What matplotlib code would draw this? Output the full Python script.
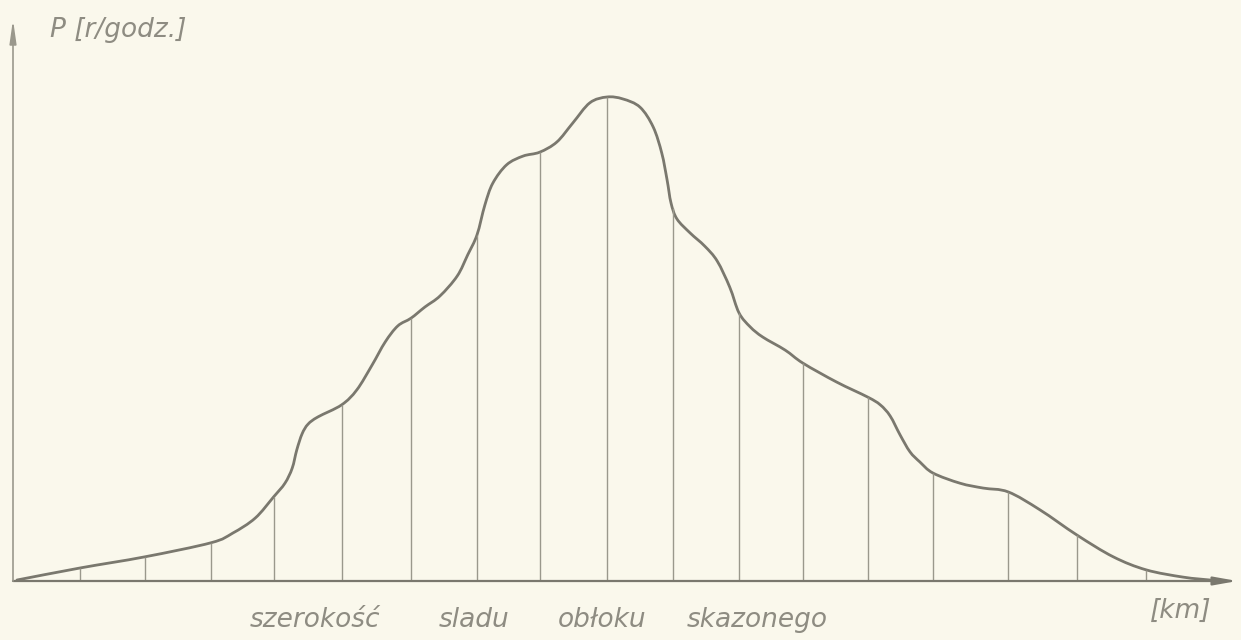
import matplotlib.pyplot as plt
from matplotlib.path import Path
from matplotlib.patches import PathPatch
import numpy as np

# profile of the dose rate across the trace (x in km, P in r/godz., arbitrary scale)
curve_x = [0.06, 1.02, 2.00, 3.00, 3.33, 3.67, 3.95, 4.12, 4.23, 4.30, 4.38, 4.47,
           4.62, 4.98, 5.21, 5.44, 5.64, 5.83, 6.03, 6.24, 6.47, 6.73, 6.89, 7.03,
           7.15, 7.27, 7.48, 7.73, 7.98, 8.24, 8.48, 8.74, 9.00, 9.24, 9.50, 9.70,
           9.83, 9.91, 9.97, 10.06, 10.26, 10.48, 10.67, 10.86, 11.00, 11.17, 11.36,
           11.70, 11.97, 12.48, 12.95, 13.14, 13.29, 13.44, 13.59, 13.74, 13.94,
           14.35, 14.70, 15.08, 15.56, 16.12, 16.67, 17.17, 17.73, 18.14]
curve_p = [0.2, 2.7, 5.0, 7.9, 9.9, 13.0, 17.4, 20.2, 23.3, 27.1, 30.4, 32.4,
           33.9, 36.4, 39.5, 44.6, 49.4, 52.7, 54.3, 56.6, 58.9, 63.0, 67.4, 71.5,
           77.7, 82.2, 86.0, 87.8, 88.6, 90.7, 94.6, 98.8, 100.0, 99.6, 97.9, 93.8,
           88.4, 82.9, 78.1, 74.8, 71.9, 69.2, 66.1, 60.7, 55.4, 52.5, 50.4,
           47.7, 45.0, 41.1, 38.0, 36.4, 34.1, 30.2, 26.7, 24.6, 22.3,
           20.2, 19.2, 18.4, 14.7, 9.5, 5.0, 2.3, 0.8, 0.2]

# measuring stations (vertical ordinates)
station_x = [1.02, 2.00, 3.00, 3.95, 4.98, 6.03, 7.03, 7.98, 9.00, 10.00, 11.00,
             11.97, 12.95, 13.94, 15.08, 16.12, 17.17]
station_p = [2.7, 5.0, 7.9, 17.4, 36.4, 54.3, 71.5, 88.6, 100.0, 77.0, 55.4,
             45.0, 38.0, 22.3, 18.4, 9.5, 2.3]

words = ['szerokość', 'sladu', 'obłoku', 'skazonego']
words_x = [3.59, 6.45, 8.26, 10.21]

bg = '#faf8ec'
ink = '#7a786e'
thin = '#9a988c'
txt_col = '#8e8c82'


def smooth_path(xs, ys):
    # catmull-rom through the read points, drawn as cubic beziers
    pts = np.column_stack([xs, ys])
    verts = [pts[0]]
    codes = [Path.MOVETO]
    n = len(pts)
    for i in range(n - 1):
        p0 = pts[max(i - 1, 0)]
        p1 = pts[i]
        p2 = pts[i + 1]
        p3 = pts[min(i + 2, n - 1)]
        verts += [p1 + (p2 - p0) / 6, p2 - (p3 - p1) / 6, p2]
        codes += [Path.CURVE4] * 3
    return Path(verts, codes)


fig = plt.figure(figsize=(12.41, 6.40), dpi=100)
fig.patch.set_facecolor(bg)
ax = fig.add_axes([0, 0, 1, 1])
ax.set_facecolor(bg)
ax.set_xlim(-13 / 66, 1228 / 66)
ax.set_ylim(-59 / 4.84, 581 / 4.84)
ax.axis('off')

# ordinates
ax.vlines(station_x, 0, station_p, color=thin, linewidth=1.0)

# curve
ax.add_patch(PathPatch(smooth_path(curve_x, curve_p), fill=False, edgecolor=ink,
                       linewidth=2.0, capstyle='round', joinstyle='round'))

# axes with arrows
ax.annotate('', xy=(18.55, 0), xytext=(0, 0),
            arrowprops=dict(arrowstyle='-|>,head_length=1.4,head_width=0.25',
                            color=ink, linewidth=1.6, shrinkA=0, shrinkB=0))
ax.annotate('', xy=(0, 116), xytext=(0, 0),
            arrowprops=dict(arrowstyle='-|>,head_length=1.4,head_width=0.2',
                            color=thin, linewidth=1.2, shrinkA=0, shrinkB=0))

txt = dict(color=txt_col, style='italic', va='baseline', ha='left')
ax.text(0.56, 112.4, 'P [r/godz.]', fontsize=19, **txt)
ax.text(17.23, -7.6, '[km]', fontsize=19, **txt)
for w, x in zip(words, words_x):
    ax.text(x, -9.5, w, fontsize=19, **txt)

fig.savefig('out.png', dpi=100, facecolor=bg)
